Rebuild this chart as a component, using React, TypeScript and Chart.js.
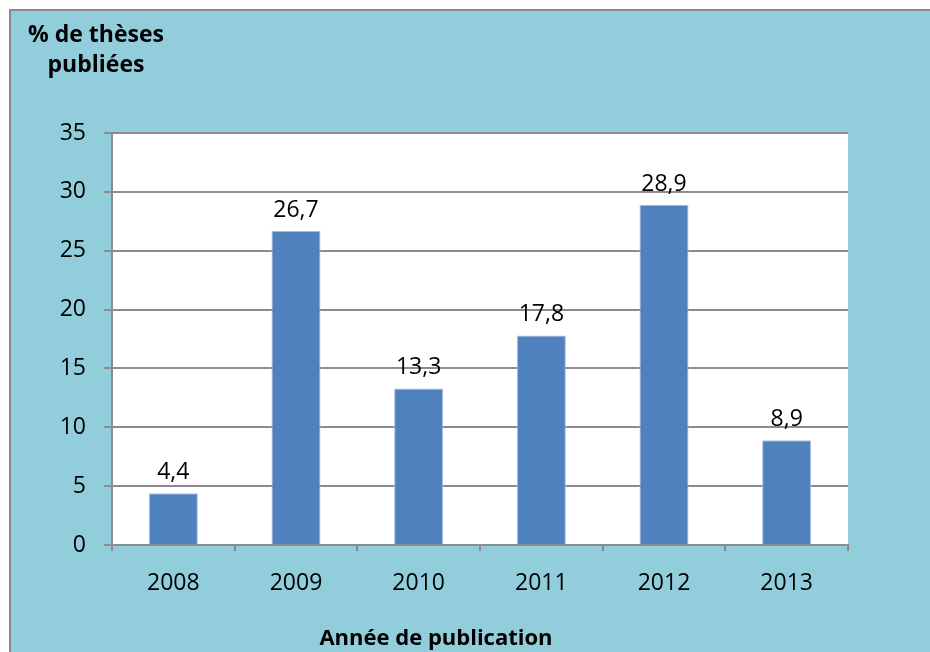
import React, { useEffect, useRef } from "react";
import { Chart, registerables } from "chart.js";

Chart.register(...registerables);

const years = ["2008", "2009", "2010", "2011", "2012", "2013"];
const percentages = [4.4, 26.7, 13.3, 17.8, 28.9, 8.9];
const yTicks = [0, 5, 10, 15, 20, 25, 30, 35];
const titleLines = ["% de thèses", "publiées"];
const xTitle = "Année de publication";

const FONT = "'Open Sans', 'Liberation Sans', sans-serif";
const GRID = "#8c8c8c";

export default function App() {
  const ref = useRef<HTMLCanvasElement | null>(null);

  useEffect(() => {
    const canvas = ref.current;
    if (!canvas) return;

    const background = {
      id: "background",
      beforeDraw(chart: any) {
        const { ctx, width, height, chartArea } = chart;
        ctx.save();
        ctx.fillStyle = "#ffffff";
        ctx.fillRect(0, 0, width, height);
        ctx.fillStyle = "#92CDDC";
        ctx.fillRect(10, 10, width - 10, height - 10);
        ctx.strokeStyle = "#8a8a8a";
        ctx.lineWidth = 2;
        ctx.beginPath();
        ctx.moveTo(10, height);
        ctx.lineTo(10, 10);
        ctx.lineTo(width, 10);
        ctx.stroke();
        ctx.fillStyle = "#ffffff";
        ctx.fillRect(chartArea.left, chartArea.top, chartArea.right - chartArea.left, chartArea.bottom - chartArea.top);
        ctx.restore();
      },
    };

    const texts = {
      id: "texts",
      afterDraw(chart: any) {
        const { ctx } = chart;
        ctx.save();
        ctx.fillStyle = "#000000";
        ctx.textAlign = "center";
        ctx.textBaseline = "alphabetic";
        ctx.font = `bold 23px ${FONT}`;
        titleLines.forEach((line, i) => {
          ctx.fillText(line, 96, 42 + i * 30);
        });
        ctx.font = `bold 22px ${FONT}`;
        ctx.fillText(xTitle, 436, 645);

        // data labels
        ctx.font = `23px ${FONT}`;
        const meta = chart.getDatasetMeta(0);
        meta.data.forEach((bar: any, i: number) => {
          const v = percentages[i];
          const label = v.toFixed(1).replace(".", ",");
          ctx.fillText(label, bar.x, bar.y - 14);
        });
        ctx.restore();
      },
    };

    const chart = new Chart(canvas, {
      type: "bar",
      data: {
        labels: years,
        datasets: [
          {
            data: percentages,
            backgroundColor: "#4F81BD",
            borderColor: "#A9C1E0",
            borderWidth: 1,
            barPercentage: 0.4,
            categoryPercentage: 1,
          },
        ],
      },
      options: {
        responsive: false,
        animation: false,
        devicePixelRatio: 1,
        layout: { padding: { top: 133, right: 82, left: 0, bottom: 0 } },
        plugins: {
          legend: { display: false },
          title: { display: false },
          tooltip: { enabled: false },
        },
        scales: {
          x: {
            afterFit(scale: any) {
              scale.height = 107;
            },
            grid: {
              offset: true,
              drawOnChartArea: false,
              drawTicks: true,
              tickLength: 6,
              color: GRID,
              lineWidth: 2,
            },
            border: { display: true, color: GRID, width: 2 },
            ticks: {
              color: "#000000",
              font: { family: FONT, size: 23 },
              padding: 19,
              maxRotation: 0,
            },
          },
          y: {
            min: 0,
            max: 35,
            afterFit(scale: any) {
              scale.width = 112;
            },
            afterBuildTicks(scale: any) {
              scale.ticks = yTicks.map((v) => ({ value: v }));
            },
            grid: {
              color: GRID,
              lineWidth: 2,
              tickLength: 8,
              drawTicks: true,
            },
            border: { display: true, color: GRID, width: 2 },
            ticks: {
              color: "#000000",
              font: { family: FONT, size: 23 },
              padding: 18,
            },
          },
        },
      },
      plugins: [background, texts],
    });

    return () => chart.destroy();
  }, []);

  return (
    <div style={{ position: "fixed", left: 0, top: 0, width: 930, height: 652 }}>
      <canvas ref={ref} width={930} height={652} style={{ display: "block" }} />
    </div>
  );
}
